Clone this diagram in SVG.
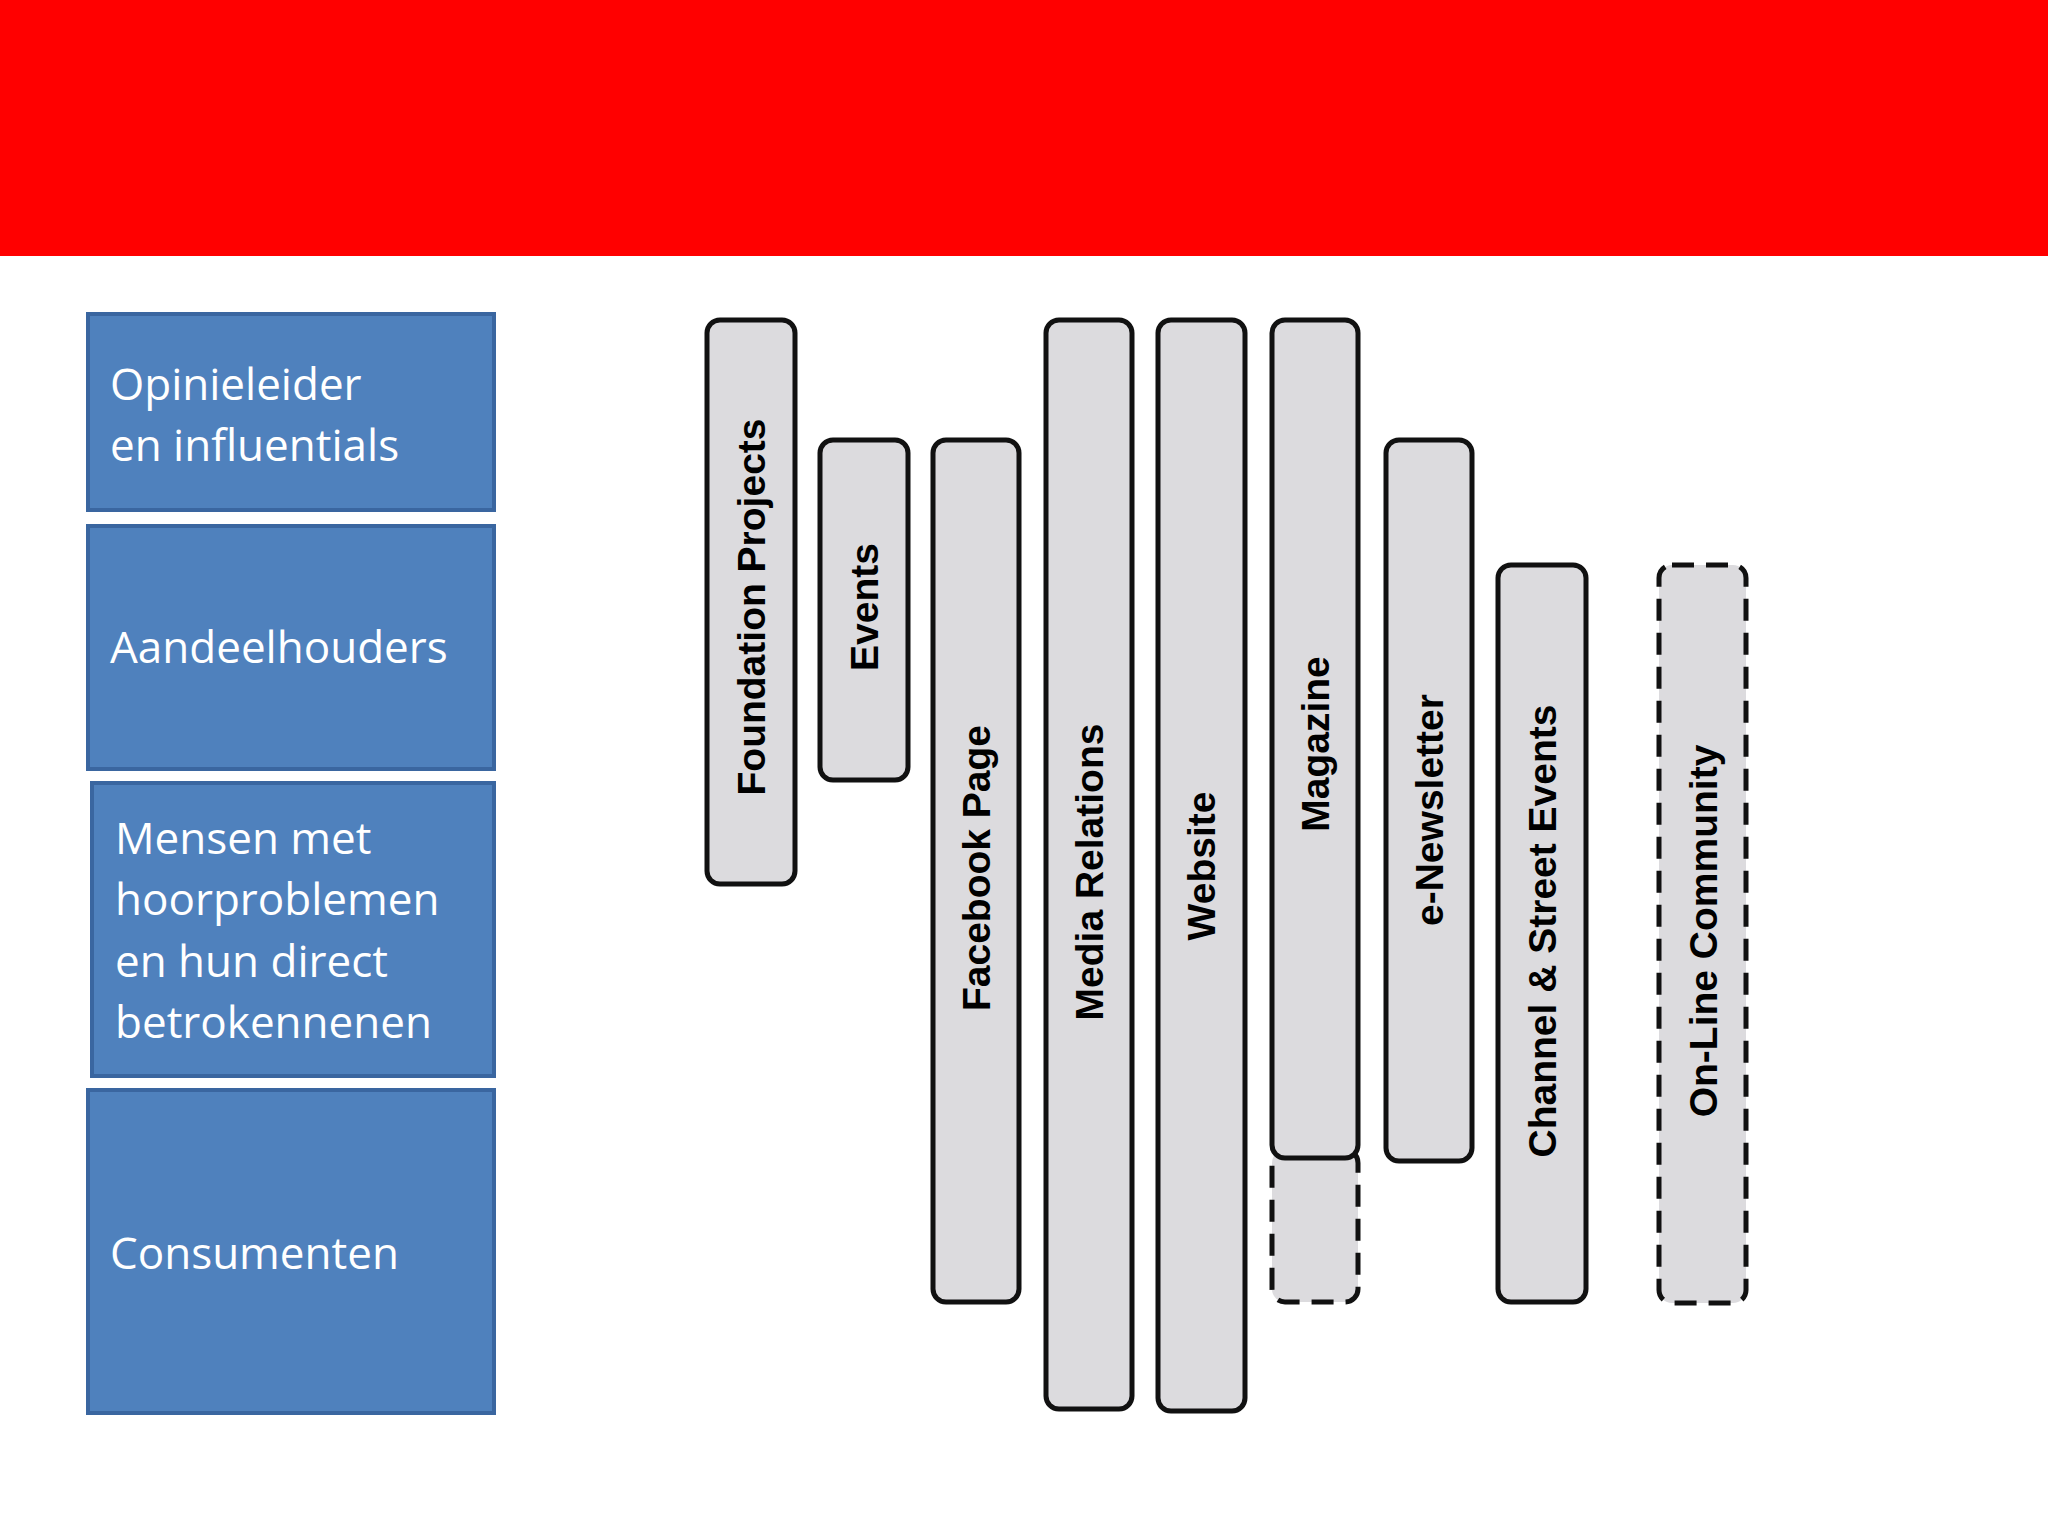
<svg xmlns="http://www.w3.org/2000/svg" width="2048" height="1536" viewBox="0 0 2048 1536">
<style>
.b{fill:#4f81bd;stroke:#3a66a0;stroke-width:4}
.bt{font-family:"Open Sans",sans-serif;font-size:44px;fill:#fff}
.c{fill:#dcdbde;stroke:#111;stroke-width:5}
.d{fill:#dcdbde;stroke:#111;stroke-width:5;stroke-dasharray:22 12}
.ct{font-family:"Liberation Sans",Arial,sans-serif;font-weight:bold;font-size:39px;fill:#000;text-anchor:middle;dominant-baseline:central}
</style>
<rect width="2048" height="1536" fill="#fff"/>
<rect width="2048" height="256" fill="#ff0000"/>
<g id="n1"><rect class="b" x="88" y="314" width="406" height="196"/><text class="bt" x="110" y="400">Opinieleider</text><text class="bt" x="110" y="461">en influentials</text></g>
<g id="n2"><rect class="b" x="88" y="526" width="406" height="243"/><text class="bt" x="110" y="663">Aandeelhouders</text></g>
<g id="n3"><rect class="b" x="92" y="783" width="402" height="293"/><text class="bt" x="115" y="854">Mensen met</text><text class="bt" x="115" y="915">hoorproblemen</text><text class="bt" x="115" y="977">en hun direct</text><text class="bt" x="115" y="1038">betrokennenen</text></g>
<g id="n4"><rect class="b" x="88" y="1090" width="406" height="323"/><text class="bt" x="110" y="1269">Consumenten</text></g>
<g id="c1"><rect class="c" x="707" y="320" width="88" height="564" rx="13"/><text class="ct" transform="translate(751,607) rotate(-90)">Foundation Projects</text></g>
<g id="c2"><rect class="c" x="820" y="440" width="88" height="340" rx="13"/><text class="ct" transform="translate(864,607) rotate(-90)">Events</text></g>
<g id="c3"><rect class="c" x="933" y="440" width="86" height="862" rx="13"/><text class="ct" transform="translate(976,868) rotate(-90)">Facebook Page</text></g>
<g id="c4"><rect class="c" x="1046" y="320" width="86" height="1089" rx="13"/><text class="ct" transform="translate(1089,872) rotate(-90)">Media Relations</text></g>
<g id="c5"><rect class="c" x="1158" y="320" width="87" height="1091" rx="13"/><text class="ct" transform="translate(1201,866) rotate(-90)">Website</text></g>
<g id="c6"><rect class="d" x="1272" y="1150" width="86" height="152" rx="13"/><rect class="c" x="1272" y="320" width="86" height="838" rx="13"/><text class="ct" transform="translate(1315,744) rotate(-90)">Magazine</text></g>
<g id="c7"><rect class="c" x="1386" y="440" width="86" height="721" rx="13"/><text class="ct" transform="translate(1429,810) rotate(-90)">e-Newsletter</text></g>
<g id="c8"><rect class="c" x="1498" y="565" width="88" height="737" rx="13"/><text class="ct" transform="translate(1542,931) rotate(-90)">Channel &amp; Street Events</text></g>
<g id="c9"><rect class="d" x="1659" y="565" width="87" height="738" rx="13"/><text class="ct" transform="translate(1703,931) rotate(-90)">On-Line Community</text></g>
<g id="connectors"/>
</svg>
